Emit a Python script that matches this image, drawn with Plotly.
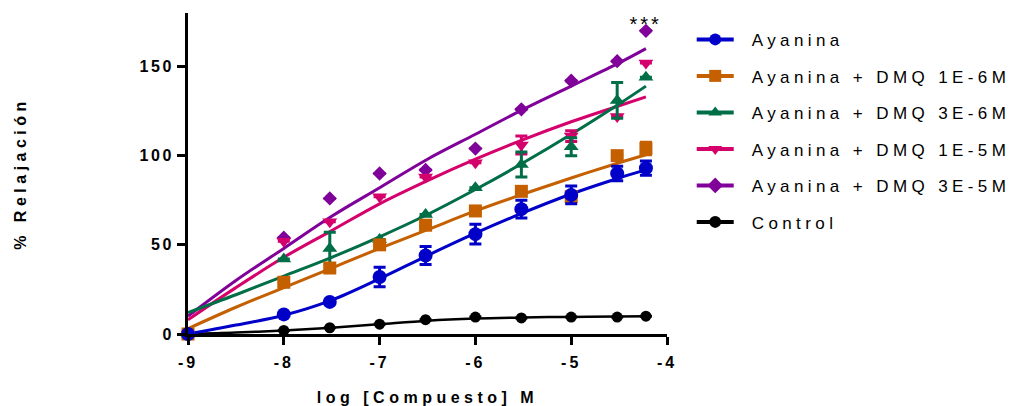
import plotly.graph_objects as go

# ---- data ----
x_log = [-9, -8, -7.52, -7, -6.52, -6, -5.52, -5, -4.52, -4.22]
x_ticks = [-9, -8, -7, -6, -5, -4]
y_ticks = [0, 50, 100, 150]

names = ["Ayanina", "Ayanina + DMQ 1E-6M", "Ayanina + DMQ 3E-6M",
         "Ayanina + DMQ 1E-5M", "Ayanina + DMQ 3E-5M", "Control"]

ayanina = [0, 11, 18, 32, 44, 56, 70, 78, 90, 93]
ayanina_err = [0, 0, 0, 5.5, 5, 5.5, 5, 5, 4, 4]
dmq_1e6 = [0, 29, 37, 50, 61, 69, 80, 77, 100, 104]
dmq_1e6_err = [0, 0, 0, 0, 0, 0, 0, 0, 0, 3.5]
dmq_3e6 = [0, 42, 48, 53, 67, 82, 95, 105, 131, 144]
dmq_3e6_err = [0, 0, 9, 0, 0, 0, 7, 5, 10, 0]
dmq_1e5 = [0, 52, 63, 77, 88, 96, 106, 111, 122, 152]
dmq_1e5_err = [0, 0, 0, 0, 0, 0, 5, 3, 0, 0]
dmq_3e5 = [0, 54, 76, 90, 92, 104, 126, 142, 153, 170]
dmq_3e5_err = [0, 0, 0, 0, 0, 0, 0, 0, 0, 0]
control = [0, 2, 3.5, 5.5, 8, 9.5, 9, 9.5, 9.5, 10]
control_err = [0, 0, 0, 0, 0, 0, 0, 0, 0, 0]

# fitted curves (at evenly spaced x positions)
x_fit = [-9, -8.5, -8, -7.5, -7, -6.5, -6, -5.5, -5, -4.5, -4.22]
ayanina_fit = [0, 5, 10.5, 19, 31, 44, 56.5, 68, 78.5, 87.5, 92]
dmq_1e6_fit = [3, 15, 26, 37, 48, 58.5, 69, 78.5, 87.5, 96, 100.5]
dmq_3e6_fit = [12, 22, 32.5, 43, 54.5, 67, 81, 96, 112, 129, 139]
dmq_1e5_fit = [8, 26, 43, 58, 73, 86, 98, 109, 119, 128, 133]
dmq_3e5_fit = [10, 30, 48, 66, 82, 98, 112, 126, 139, 152, 160]
control_fit = [0, 0.8, 2, 3.5, 5.5, 7.5, 8.7, 9.3, 9.6, 9.8, 10]

star_label = "***"
star_y = 174

# ---- styles ----
colors = ["#0000C8", "#C46000", "#006E46", "#D4006C", "#80009A", "#000000"]
symbols = ["circle", "square", "triangle-up", "triangle-down", "diamond", "circle"]
sizes = [14, 13, 13, 13, 11, 11]
FONT = "Arial, Liberation Sans, sans-serif"

series = [ayanina, dmq_1e6, dmq_3e6, dmq_1e5, dmq_3e5, control]
errs = [ayanina_err, dmq_1e6_err, dmq_3e6_err, dmq_1e5_err, dmq_3e5_err, control_err]
fits = [ayanina_fit, dmq_1e6_fit, dmq_3e6_fit, dmq_1e5_fit, dmq_3e5_fit, control_fit]
widths = [3, 3, 3, 3, 3, 2.5]

fig = go.Figure()

draw_order = [5, 4, 3, 2, 1, 0]
for i in draw_order:
    fig.add_trace(go.Scatter(
        x=x_fit, y=fits[i], mode="lines",
        line=dict(color=colors[i], width=widths[i], shape="spline", smoothing=1.0),
        showlegend=False, hoverinfo="skip", cliponaxis=False))
for i in draw_order:
    fig.add_trace(go.Scatter(
        x=x_log, y=series[i], mode="markers",
        marker=dict(color=colors[i], symbol=symbols[i], size=sizes[i], line=dict(width=0)),
        error_y=dict(type="data", array=errs[i], visible=True, color=colors[i], thickness=3, width=6),
        showlegend=False, cliponaxis=False, name=names[i]))

# legend entries
for i in range(6):
    fig.add_trace(go.Scatter(
        x=[None], y=[None], mode="lines+markers", name=names[i],
        line=dict(color=colors[i], width=4),
        marker=dict(color=colors[i], symbol=symbols[i], size=12),
        legendgroup=f"g{i}", legendrank=i + 1, showlegend=True))

fig.add_annotation(x=x_log[-1], y=star_y, text=star_label, showarrow=False,
                   font=dict(family=FONT, size=20, color="black"), xref="x", yref="y")

# the page body adds an 8px margin, so the figure is 8px smaller and margins shifted
fig.update_layout(
    width=1014, height=398,
    margin=dict(l=180, r=355, t=5, b=72, autoexpand=False),
    paper_bgcolor="white", plot_bgcolor="white",
    font=dict(family=FONT, color="black"),
    legend=dict(x=1.0516, y=0.9725, xanchor="left", yanchor="top",
                font=dict(family=FONT, size=17, color="black"),
                tracegroupgap=11.4, itemwidth=37, bgcolor="rgba(0,0,0,0)"),
    xaxis=dict(range=[-9, -4], tickvals=x_ticks, ticktext=[str(v) for v in x_ticks],
               showgrid=False, zeroline=False, showline=True, linecolor="black", linewidth=3,
               ticks="outside", ticklen=8, tickwidth=2.5, tickcolor="black", ticklabelstandoff=4,
               tickfont=dict(family=FONT, size=16, weight="bold"),
               title=dict(text="log [Compuesto] M", font=dict(family=FONT, size=16, weight="bold"), standoff=26)),
    yaxis=dict(range=[0, 180], tickvals=y_ticks, ticktext=[str(v) for v in y_ticks],
               showgrid=False, zeroline=False, showline=True, linecolor="black", linewidth=3,
               ticks="outside", ticklen=8, tickwidth=2.5, tickcolor="black",
               tickfont=dict(family=FONT, size=16, weight="bold"),
               title=dict(text="% Relajación", font=dict(family=FONT, size=16, weight="bold"), standoff=117)),
)

post = """
function sp(sel, v){document.querySelectorAll(sel).forEach(function(e){e.style.letterSpacing=v;});}
sp('.legendtext','4.4px');
sp('.xtick text','3px');
sp('.ytick text','2.5px');
sp('.g-xtitle text','4.5px');
sp('.g-ytitle text','4.5px');
sp('.annotation-text','3px');
document.querySelectorAll('.legendtext').forEach(function(e){
  var x = parseFloat(e.getAttribute('x') || '0');
  e.setAttribute('x', x + 13);
});
document.querySelectorAll('.legend [clip-path], .legend[clip-path]').forEach(function(e){e.removeAttribute('clip-path');});
"""
fig.write_html("out.html", post_script=post)
